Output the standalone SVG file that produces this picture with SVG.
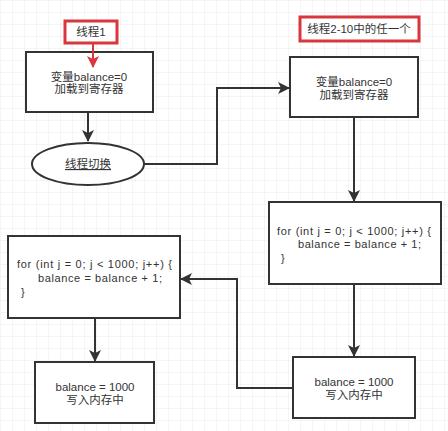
<svg xmlns="http://www.w3.org/2000/svg" width="448" height="431" viewBox="0 0 448 431">
<defs>
<pattern id="grid" width="12" height="12" patternUnits="userSpaceOnUse">
<path d="M12 0 L0 0 0 12" fill="none" stroke="#ececec" stroke-width="1"/>
</pattern>
<marker id="ah" markerWidth="12" markerHeight="12" viewBox="0 0 12 12" refX="11" refY="6" orient="auto" markerUnits="userSpaceOnUse">
<path d="M0 0 L12 6 L0 12 L3 6 Z" fill="#333"/>
</marker>
<marker id="ahr" markerWidth="12" markerHeight="12" viewBox="0 0 12 12" refX="11" refY="6" orient="auto" markerUnits="userSpaceOnUse">
<path d="M0 0 L12 6 L0 12 L3 6 Z" fill="#d9363e"/>
</marker>
</defs>
<style>
.box{fill:#fff;stroke:#333;stroke-width:2}
.lbl{fill:#fff;stroke:#d9363e;stroke-width:3}
.t{font-family:"Liberation Sans","Noto Sans CJK SC",sans-serif;font-size:11.5px;fill:#333;text-anchor:middle}
.c{font-family:"Liberation Sans","Noto Sans CJK SC",sans-serif;font-size:11px;fill:#333}
.e{fill:none;stroke:#333;stroke-width:2}
</style>
<rect width="448" height="431" fill="#fff"/>
<rect width="448" height="431" fill="url(#grid)"/>
<g id="connectors">
<path class="e" d="M88 112 L88 141" marker-end="url(#ah)"/>
<path class="e" d="M144 164 L217 164 L217 88 L289 88" marker-end="url(#ah)"/>
<path class="e" d="M354 117 L354 201" marker-end="url(#ah)"/>
<path class="e" d="M354 284 L354 356" marker-end="url(#ah)"/>
<path class="e" d="M293 388 L237 388 L237 279 L181 279" marker-end="url(#ah)"/>
<path class="e" d="M95 318 L95 361" marker-end="url(#ah)"/>
</g>
<g id="box1">
<rect class="box" x="26" y="52" width="127" height="60"/>
<text class="t" x="89" y="81">变量balance=0</text>
<text class="t" x="89" y="93">加载到寄存器</text>
</g>
<g id="label1">
<rect class="lbl" x="65" y="21" width="52" height="22"/>
<text class="t" x="91" y="36">线程1</text>
<path d="M93 43 L93 67" fill="none" stroke="#d9363e" stroke-width="2" marker-end="url(#ahr)"/>
</g>
<g id="switch">
<ellipse cx="88" cy="164" rx="56" ry="21" fill="#fff" stroke="#333" stroke-width="2"/>
<text class="t" x="88" y="168" text-decoration="underline">线程切换</text>
</g>
<g id="label2">
<rect class="lbl" x="300" y="17" width="119" height="24"/>
<text class="t" x="359" y="33">线程2-10中的任一个</text>
</g>
<g id="box2">
<rect class="box" x="290" y="57" width="128" height="60"/>
<text class="t" x="354" y="86">变量balance=0</text>
<text class="t" x="354" y="99">加载到寄存器</text>
</g>
<g id="box3">
<rect class="box" x="269" y="202" width="172" height="82"/>
<text class="c" x="277" y="235" textLength="154" lengthAdjust="spacing">for (int j = 0; j &lt; 1000; j++) {</text>
<text class="c" x="298" y="248" textLength="123" lengthAdjust="spacing">balance = balance + 1;</text>
<text class="c" x="281" y="262">}</text>
</g>
<g id="box4">
<rect class="box" x="293" y="357" width="122" height="61"/>
<text class="t" x="354" y="386">balance = 1000</text>
<text class="t" x="354" y="399">写入内存中</text>
</g>
<g id="box5">
<rect class="box" x="8" y="236" width="172" height="82"/>
<text class="c" x="17" y="268" textLength="155" lengthAdjust="spacing">for (int j = 0; j &lt; 1000; j++) {</text>
<text class="c" x="38" y="282" textLength="124" lengthAdjust="spacing">balance = balance + 1;</text>
<text class="c" x="21" y="296">}</text>
</g>
<g id="box6">
<rect class="box" x="35" y="362" width="119" height="61"/>
<text class="t" x="95" y="391">balance = 1000</text>
<text class="t" x="95" y="404">写入内存中</text>
</g>
</svg>
